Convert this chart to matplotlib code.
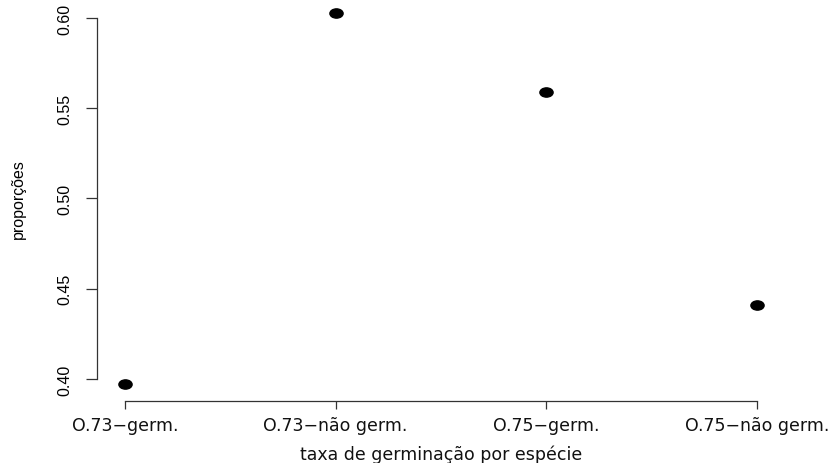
import numpy as np
import matplotlib
matplotlib.use("Agg")
import matplotlib.pyplot as plt
from matplotlib.path import Path
from matplotlib.font_manager import fontManager

# germination proportions per species/outcome
categorias = ["O.73\u2212germ.", "O.73\u2212não germ.", "O.75\u2212germ.", "O.75\u2212não germ."]
proporcoes = [0.397, 0.603, 0.559, 0.441]
yticks = [0.40, 0.45, 0.50, 0.55, 0.60]

names = {f.name for f in fontManager.ttflist}
base = "Liberation Sans" if "Liberation Sans" in names else "DejaVu Sans"
narrow = "Liberation Sans Narrow" if "Liberation Sans Narrow" in names else base
wide = "DejaVu Sans"
plt.rcParams["font.family"] = [base, "DejaVu Sans"]

# slightly flattened dot, like R's pch=19 on a wide device
circ = Path.unit_circle()
dot = Path(circ.vertices * np.array([1.0, 0.7]), circ.codes)

W, H = 832, 464
fig = plt.figure(figsize=(W / 100, H / 100), dpi=100)
left, right, top, bottom = 99.7, 782.3, -1.3, 400.3
ax = fig.add_axes([left / W, 1 - bottom / H, (right - left) / W, (bottom - top) / H])

x = np.arange(1, len(categorias) + 1)
ax.plot(x, proporcoes, linestyle="none", marker=dot, markersize=9.5, color="black")

ax.set_xlim(0.88, 4.12)
lo, hi = min(proporcoes), max(proporcoes)
pad = 0.04 * (hi - lo)
ax.set_ylim(lo - pad, hi + pad)

for s in ["top", "right"]:
    ax.spines[s].set_visible(False)
ax.spines["left"].set_bounds(yticks[0], yticks[-1])
ax.spines["bottom"].set_bounds(1, 4)
ax.spines["left"].set_position(("outward", 2))
ax.spines["bottom"].set_position(("outward", 1))
for s in ["left", "bottom"]:
    ax.spines[s].set_color("#333333")
    ax.spines[s].set_linewidth(0.9)

ax.set_xticks(x)
ax.set_xticklabels(categorias, fontsize=12.5, family=wide, color="#111111")
ax.set_yticks(yticks)
ax.set_yticklabels([f"{v:.2f}" for v in yticks], rotation=90, va="center",
                   fontsize=11.5, family=narrow)
ax.tick_params(direction="out", width=0.9, color="#333333")
ax.tick_params(axis="x", length=5.8, pad=5.5)
ax.tick_params(axis="y", length=8, pad=10)

ax.set_xlabel("taxa de germinação por espécie", fontsize=12.5, family=wide,
              color="#111111", labelpad=7.5)
ax.set_ylabel("proporções", fontsize=11.5, family=narrow, labelpad=22)

fig.savefig("out.png", dpi=100)
